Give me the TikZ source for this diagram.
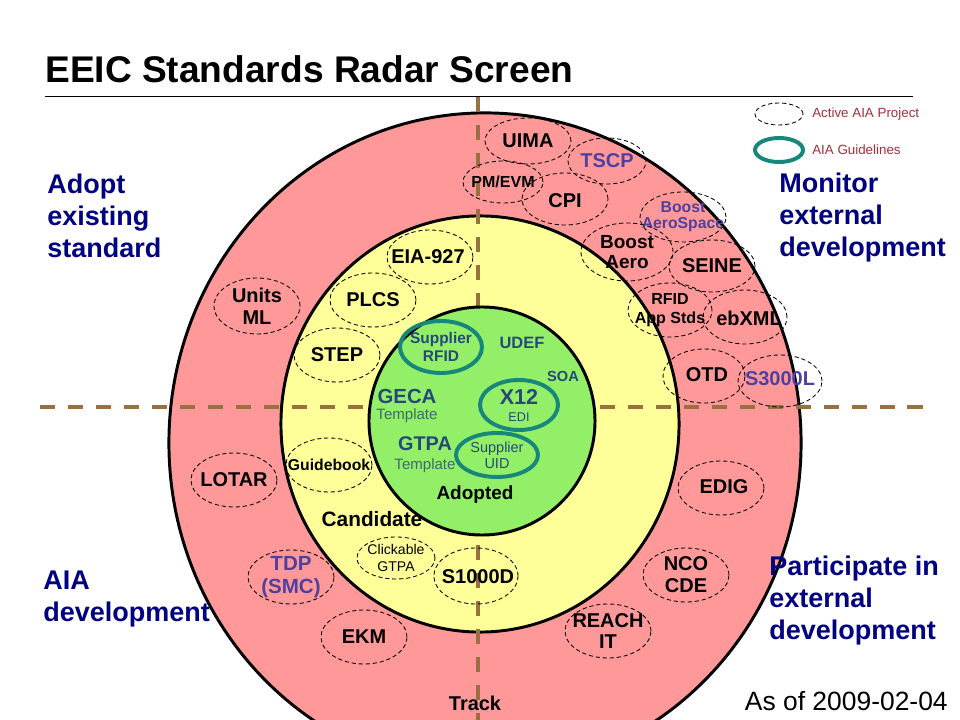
\documentclass[tikz,border=0pt]{standalone}
\usepackage{fontspec}
\setmainfont{Liberation Sans}
\usetikzlibrary{shapes.geometric}
\definecolor{ringR}{HTML}{FF9999}
\definecolor{ringY}{HTML}{FFFF99}
\definecolor{ringG}{HTML}{93EF68}
\definecolor{axisC}{HTML}{9A7040}
\definecolor{guideC}{HTML}{17877A}
\definecolor{quadC}{HTML}{000080}
\definecolor{extC}{HTML}{4F3F9F}
\definecolor{inC}{HTML}{264A78}
\definecolor{tmplC}{HTML}{3C6A70}
\definecolor{legC}{HTML}{A0303A}
\tikzset{
  ring/.style={ellipse, draw=black, line width=2.1pt, inner sep=0pt},
  trackline/.style={draw=axisC, line width=2.8pt, dash pattern=on 10.7pt off 9.2pt},
  prj/.style={ellipse, draw=black, line width=0.6pt, dash pattern=on 3pt off 2pt,
              minimum width=2.15cm, minimum height=1.35cm, inner sep=0pt},
  gdl/.style={ellipse, draw=guideC, line width=2.8pt, inner sep=0pt},
  itm/.style={font=\bfseries\fontsize{14.2}{15.6}\selectfont, align=center, inner sep=0pt},
  itms/.style={font=\bfseries\fontsize{11.4}{13.5}\selectfont, align=center, inner sep=0pt},
  inr/.style={text=inC, align=center, inner sep=0pt},
  quad/.style={font=\bfseries\fontsize{19.2}{22.8}\selectfont, text=quadC, align=left,
               anchor=north west, inner sep=0pt},
  leg/.style={font=\fontsize{9.5}{11}\selectfont, text=legC, anchor=west, inner sep=0pt},
}

\begin{document}
\begin{tikzpicture}[x=0.025cm, y=-0.025cm]
  \path[use as bounding box] (0,0) rectangle (960,720);
  \clip (0,0) rectangle (960,720);
  \fill[white] (0,0) rectangle (960,720);

  % ------------------------------------------------ title
  \node[font=\bfseries\fontsize{26.4}{30}\selectfont, anchor=base west, inner sep=0pt] (title)
    at (45,83) {EEIC Standards Radar Screen};
  \draw[line width=0.7pt] (45,96) -- (913,96);

  % ------------------------------------------------ the three rings and the axes
  \node[ring, fill=ringR, minimum width=15.8cm, minimum height=16.5cm] (trk) at (485,443) {};
  \node[ring, fill=ringY, minimum width=9.95cm, minimum height=10.4cm] (cand) at (480,424) {};
  \draw[trackline] (478,97) -- (478,720);
  \draw[trackline] (40,407) -- (925,407);
  \node[ring, fill=ringG, minimum width=5.65cm, minimum height=5.7cm] (adpt) at (482,421) {};

  % ------------------------------------------------ legend
  \node[prj, minimum width=1.2cm, minimum height=0.55cm] (legA) at (779,114) {};
  \node[leg] at (812,114) {Active AIA Project};
  \node[gdl, minimum width=1.2cm, minimum height=0.6cm] (legG) at (779,150) {};
  \node[leg] at (812,150) {AIA Guidelines};

  % ------------------------------------------------ quadrant labels
  \node[quad] (qAdopt) at (47,174) {Adopt\\existing\\standard};
  \node[quad] (qMon) at (779,173) {Monitor\\external\\development};
  \node[quad] (qAIA) at (43,571) {AIA\\development};
  \node[quad] (qPart) at (769,556) {Participate in\\external\\development};
  \node[font=\fontsize{18.8}{22}\selectfont, anchor=base east, inner sep=0pt] (date)
    at (948,710) {As of 2009-02-04};

  % ------------------------------------------------ track ring
  \node[prj, minimum height=1.15cm] (uima) at (528,141) {};
  \node[itm] at (uima) {UIMA};
  \node[prj, minimum width=1.95cm, minimum height=1.15cm] (tscp) at (607,161) {};
  \node[itm, text=extC] at (tscp) {TSCP};
  \node[prj, minimum width=2cm, minimum height=1.05cm] (pmevm) at (503,182) {};
  \node[itms] at (pmevm) {PM/EVM};
  \node[prj, minimum height=1.3cm] (cpi) at (565,199) {};
  \node[itm] at (565,201) {CPI};
  \node[prj, minimum height=1.25cm] (bas) at (683,217) {};
  \node[font=\bfseries\fontsize{11.2}{11.4}\selectfont, text=extC, align=center, inner sep=0pt]
    at (bas) {Boost\\AeroSpace};
  \node[prj, minimum width=2.3cm, minimum height=1.45cm] (baero) at (627,252) {};
  \node[font=\bfseries\fontsize{13.5}{14.2}\selectfont, align=center, inner sep=0pt]
    at (baero) {Boost\\Aero};
  \node[prj, minimum height=1.3cm] (seine) at (712,266) {};
  \node[itm] at (seine) {SEINE};
  \node[prj, minimum width=2.1cm] (rfid) at (670,310) {};
  \node[itms] at (rfid) {RFID\\App Stds};
  \node[prj, minimum width=2.1cm] (ebxml) at (745,317) {};
  \node[itm] at (749,318) {ebXML};
  \node[prj, minimum width=2.05cm] (otd) at (704,376) {};
  \node[itm] at (707,375) {OTD};
  \node[prj, minimum width=2.1cm, minimum height=1.3cm] (s3000l) at (780,381) {};
  \node[itm, text=extC] at (780,379) {S3000L};
  \node[prj, minimum height=1.4cm] (units) at (257,306) {};
  \node[itm] at (units) {Units\\ML};
  \node[prj] (lotar) at (234,480) {};
  \node[itm] at (lotar) {LOTAR};
  \node[prj] (tdp) at (291,577) {};
  \node[itm, text=extC, font=\bfseries\fontsize{14.6}{16.4}\selectfont] at (tdp) {TDP\\(SMC)};
  \node[prj] (ekm) at (364,637) {};
  \node[itm] at (ekm) {EKM};
  \node[prj] (edig) at (721,488) {};
  \node[itm] at (724,487) {EDIG};
  \node[prj] (nco) at (686,575) {};
  \node[itm] at (nco) {NCO\\CDE};
  \node[prj] (reach) at (608,631) {};
  \node[itm] at (reach) {REACH\\IT};
  \node[itm] (trackL) at (475,703) {Track};

  % ------------------------------------------------ candidate ring
  \node[prj] (eia) at (430,257) {};
  \node[itm] at (428,257) {EIA-927};
  \node[prj] (plcs) at (373,300) {};
  \node[itm] at (plcs) {PLCS};
  \node[prj] (stepE) at (337,355) {};
  \node[itm] at (stepE) {STEP};
  \node[prj] (guideb) at (329,465) {};
  \node[font=\bfseries\fontsize{11.2}{13}\selectfont, inner sep=0pt] at (guideb) {Guidebook};
  \node[itm, font=\bfseries\fontsize{14.8}{16}\selectfont] (candL) at (372,519) {Candidate};
  \node[prj, minimum width=1.95cm, minimum height=1.05cm] (click) at (396,558) {};
  \node[font=\fontsize{10}{12}\selectfont, align=center, inner sep=0pt] at (click) {Clickable\\GTPA};
  \node[prj, minimum width=2.1cm, minimum height=1.4cm] (s1000d) at (476,576) {};
  \node[itm] at (478,577) {S1000D};

  % ------------------------------------------------ adopted core
  \node[gdl, minimum width=2.05cm, minimum height=1.3cm] (suprfid) at (441,347) {};
  \node[inr, font=\bfseries\fontsize{11}{12.8}\selectfont] at (suprfid) {Supplier\\RFID};
  \node[inr, font=\bfseries\fontsize{11.7}{13}\selectfont] (udef) at (522,343) {UDEF};
  \node[inr, font=\bfseries\fontsize{10.4}{12}\selectfont] (soa) at (563,376) {SOA};
  \node[gdl, minimum width=1.95cm, minimum height=1.25cm] (x12) at (519,405) {};
  \node[inr, font=\bfseries\fontsize{15.3}{17}\selectfont] at (519,397) {X12};
  \node[inr, font=\fontsize{9}{11}\selectfont] at (519,417) {EDI};
  \node[inr, font=\bfseries\fontsize{14.5}{16}\selectfont] (geca) at (407,396) {GECA};
  \node[inr, text=tmplC, font=\fontsize{10.7}{12}\selectfont] at (407,416) {Template};
  \node[inr, font=\bfseries\fontsize{14.1}{16}\selectfont] (gtpa) at (425,444) {GTPA};
  \node[inr, text=tmplC, font=\fontsize{10.7}{12}\selectfont] at (425,466) {Template};
  \node[gdl, minimum width=2.05cm, minimum height=1.1cm] (supuid) at (497,455) {};
  \node[inr, font=\fontsize{10.3}{11.4}\selectfont] at (supuid) {Supplier\\UID};
  \node[itm, font=\bfseries\fontsize{13.5}{15}\selectfont] (adptL) at (475,495) {Adopted};
\end{tikzpicture}
\end{document}
